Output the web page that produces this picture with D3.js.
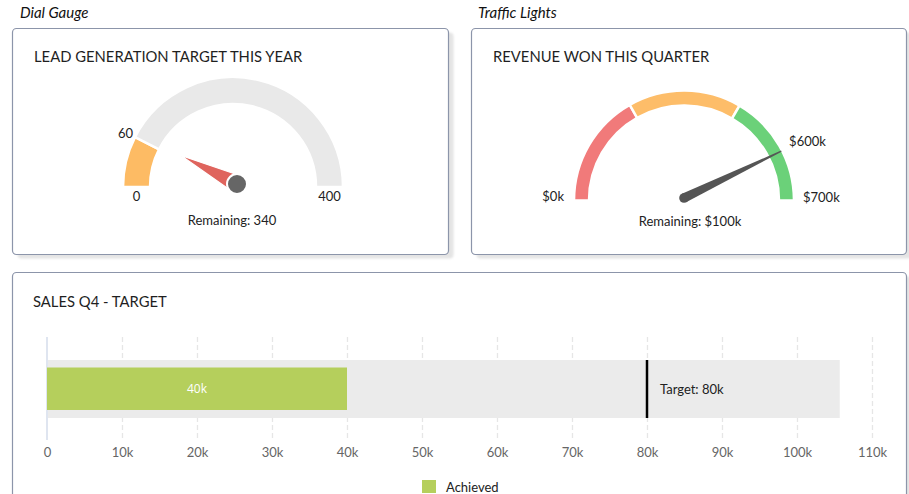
<!DOCTYPE html>
<html>
<head>
<meta charset="utf-8">
<script src="https://cdn.jsdelivr.net/npm/d3@7"></script>
<style>
  html, body { margin: 0; padding: 0; background: #ffffff; overflow: hidden; }
  svg { display: block; font-family: Lato, "Open Sans", sans-serif; }
</style>
</head>
<body>
<svg id="chart" width="909" height="494"></svg>
<script>
// ---------- DATA ----------
// Dial gauge (lead generation)
const leadMax = 400;
const leadValue = 60;
const leadBandStops = [0, 60, 400];
const leadBandColors = ["#fdbb64", "#e9e9e9"];
const leadLabels = ["0", "60", "400"];
const leadRemaining = "Remaining: 340";

// Traffic lights (revenue, in $k)
const revMax = 700;
const revValue = 600;
const revBandStops = [0, 235, 468, 700];
const revBandColors = ["#f17a7a", "#fdbd69", "#6bd179"];
const revLabels = ["$0k", "$600k", "$700k"];
const revRemaining = "Remaining: $100k";

// Bullet chart (sales Q4)
const salesTicks = [0, 10000, 20000, 30000, 40000, 50000, 60000, 70000, 80000, 90000, 100000, 110000];
const salesAchieved = 40000;
const salesTarget = 80000;
const salesBandMax = 105700;
const salesSeries = ["Achieved"];

// ---------- DRAW ----------
const svg = d3.select("#chart");
const defs = svg.append("defs");
const blur = defs.append("filter").attr("id", "sh").attr("x", "-5%").attr("y", "-5%").attr("width", "115%").attr("height", "115%");
blur.append("feGaussianBlur").attr("stdDeviation", 1.2);

function panel(x, y, w, h) {
  svg.append("rect").attr("x", x + 5).attr("y", y + 4).attr("width", w).attr("height", h)
    .attr("rx", 4).attr("fill", "#e4e4e4").attr("filter", "url(#sh)");
  svg.append("rect").attr("x", x).attr("y", y).attr("width", w).attr("height", h)
    .attr("rx", 4).attr("fill", "#ffffff").attr("stroke", "#8c95aa").attr("stroke-width", 1.2);
}

// section headings
svg.append("text").attr("x", 20).attr("y", 18).text("Dial Gauge")
  .attr("font-style", "italic").attr("font-size", 15).attr("fill", "#111");
svg.append("text").attr("x", 478).attr("y", 18).text("Traffic Lights")
  .attr("font-style", "italic").attr("font-size", 15).attr("fill", "#111");

panel(12.5, 28.5, 436, 226);
panel(471.5, 28.5, 435, 226);
panel(12.5, 272.5, 894, 240);

function title(x, y, t) {
  svg.append("text").attr("x", x).attr("y", y).text(t)
    .attr("font-size", 14.8).attr("fill", "#1f1f1f");
}
title(34, 62, "LEAD GENERATION TARGET THIS YEAR");
title(493, 62, "REVENUE WON THIS QUARTER");
title(33, 307, "SALES Q4 - TARGET");

// ---------- Gauge 1 ----------
{
  const cx = 233, cy = 187, rOut = 110, rIn = 83;
  const a = d3.scaleLinear().domain([0, leadMax]).range([-Math.PI / 2, Math.PI / 2]);
  const g = svg.append("g").attr("transform", `translate(${cx},${cy})`);
  const arc = d3.arc().innerRadius(rIn).outerRadius(rOut);
  const bands = leadBandColors.map((c, i) => ({ from: leadBandStops[i], to: leadBandStops[i + 1], color: c }));
  g.selectAll("path.band").data(bands).join("path").attr("class", "band")
    .attr("d", d => arc({ startAngle: a(d.from), endAngle: a(d.to) }))
    .attr("fill", d => d.color).attr("stroke", "#fff").attr("stroke-width", 2.5);

  const font = 13;
  g.append("text").attr("x", -(rIn + rOut) / 2).attr("y", 14).attr("text-anchor", "middle")
    .attr("font-size", font).attr("fill", "#222").text(leadLabels[0]);
  g.append("text").attr("x", (rIn + rOut) / 2).attr("y", 14).attr("text-anchor", "middle")
    .attr("font-size", font).attr("fill", "#222").text(leadLabels[2]);
  const va = a(leadValue);
  g.append("text").attr("x", Math.sin(va) * rOut - 2).attr("y", -Math.cos(va) * rOut + 1)
    .attr("text-anchor", "end").attr("font-size", font).attr("fill", "#222").text(leadLabels[1]);

  // needle
  const px = 4, py = -3, len = 63, hw = 9;
  const dx = Math.sin(va), dy = -Math.cos(va);
  const pts = [[px + dx * len, py + dy * len], [px - dy * hw, py + dx * hw], [px + dy * hw, py - dx * hw]];
  g.append("path").attr("d", d3.line()(pts) + "Z").attr("fill", "#df645d").attr("stroke", "#fff").attr("stroke-width", 1.2);
  g.append("circle").attr("cx", px).attr("cy", py).attr("r", 10).attr("fill", "#666").attr("stroke", "#fff").attr("stroke-width", 2);

  g.append("text").attr("x", -1).attr("y", 38).attr("text-anchor", "middle")
    .attr("font-size", font).attr("fill", "#222").text(leadRemaining);
}

// ---------- Gauge 2 ----------
{
  const cx = 684, cy = 200.5, rOut = 110, rIn = 95;
  const a = d3.scaleLinear().domain([0, revMax]).range([-Math.PI / 2, Math.PI / 2]);
  const g = svg.append("g").attr("transform", `translate(${cx},${cy})`);
  const arc = d3.arc().innerRadius(rIn).outerRadius(rOut);
  const bands = revBandColors.map((c, i) => ({ from: revBandStops[i], to: revBandStops[i + 1], color: c }));
  g.selectAll("path.band").data(bands).join("path").attr("class", "band")
    .attr("d", d => arc({ startAngle: a(d.from), endAngle: a(d.to) }))
    .attr("fill", d => d.color).attr("stroke", "#fff").attr("stroke-width", 2.5);

  const font = 13;
  g.append("text").attr("x", -rOut - 10).attr("y", 0).attr("text-anchor", "end")
    .attr("font-size", font).attr("fill", "#222").text(revLabels[0]);
  g.append("text").attr("x", rOut + 9).attr("y", 1).attr("text-anchor", "start")
    .attr("font-size", font).attr("fill", "#222").text(revLabels[2]);
  const va = a(revValue);
  g.append("text").attr("x", Math.sin(va) * rOut + 6).attr("y", -Math.cos(va) * rOut - 7)
    .attr("text-anchor", "start").attr("font-size", font).attr("fill", "#222").text(revLabels[1]);

  // tapered needle with round base
  const len = 108, hw = 4.8, tw = 0.6, bx = 0, by = -2.5;
  const dx = Math.sin(va), dy = -Math.cos(va);
  const nx = -dy, ny = dx;
  const pts = [[bx + nx * hw, by + ny * hw], [bx + dx * len + nx * tw, by + dy * len + ny * tw],
               [bx + dx * len - nx * tw, by + dy * len - ny * tw], [bx - nx * hw, by - ny * hw]];
  g.append("path").attr("d", d3.line()(pts) + "Z").attr("fill", "#555");
  g.append("circle").attr("cx", bx).attr("cy", by).attr("r", hw).attr("fill", "#555");

  g.append("text").attr("x", 6).attr("y", 25).attr("text-anchor", "middle")
    .attr("font-size", font).attr("fill", "#222").text(revRemaining);
}

// ---------- Bullet chart ----------
{
  const x = d3.scaleLinear().domain([0, 110000]).range([47, 872]);
  const yTop = 337, yBot = 440, bandTop = 360, bandBot = 418, barTop = 367.5, barBot = 410;
  const g = svg.append("g");

  g.selectAll("line.grid").data(salesTicks.filter(d => d > 0)).join("line").attr("class", "grid")
    .attr("x1", d => Math.round(x(d)) + 0.5).attr("x2", d => Math.round(x(d)) + 0.5)
    .attr("y1", yTop).attr("y2", yBot)
    .attr("stroke", "#e6e6e6").attr("stroke-width", 1.3).attr("stroke-dasharray", "5,3");

  g.append("rect").attr("x", x(0)).attr("y", bandTop).attr("width", x(salesBandMax) - x(0))
    .attr("height", bandBot - bandTop).attr("fill", "#ebebeb");

  g.append("line").attr("x1", x(0)).attr("x2", x(0)).attr("y1", yTop).attr("y2", yBot)
    .attr("stroke", "#dfe5f0").attr("stroke-width", 2);

  g.append("rect").attr("x", x(0)).attr("y", barTop).attr("width", x(salesAchieved) - x(0))
    .attr("height", barBot - barTop).attr("fill", "#b5cf5c");
  g.append("text").attr("x", (x(0) + x(salesAchieved)) / 2).attr("y", (barTop + barBot) / 2 + 4)
    .attr("text-anchor", "middle").attr("font-size", 12).attr("font-weight", 500)
    .attr("font-family", "'Open Sans', sans-serif").attr("fill", "#ffffff").text(salesAchieved / 1000 + "k");

  g.append("line").attr("x1", x(salesTarget)).attr("x2", x(salesTarget)).attr("y1", bandTop).attr("y2", bandBot)
    .attr("stroke", "#000").attr("stroke-width", 2.5);
  g.append("text").attr("x", x(salesTarget) + 13).attr("y", (bandTop + bandBot) / 2 + 4.5)
    .attr("font-size", 13).attr("fill", "#222").text("Target: " + salesTarget / 1000 + "k");

  const axis = d3.axisBottom(x).tickValues(salesTicks).tickSize(0).tickPadding(0)
    .tickFormat(d => d === 0 ? "0" : d / 1000 + "k");
  const ax = svg.append("g").attr("transform", "translate(0,448)").call(axis);
  ax.select(".domain").remove();
  ax.selectAll("text").attr("font-size", 13).attr("fill", "#666").attr("font-family", "Lato, sans-serif")
    .attr("dy", "0.71em");

  const lg = svg.append("g").attr("transform", "translate(422,480)");
  lg.selectAll("rect").data(salesSeries).join("rect").attr("x", 0).attr("y", 0)
    .attr("width", 14).attr("height", 13).attr("fill", "#b5cf5c");
  lg.selectAll("text").data(salesSeries).join("text").attr("x", 24).attr("y", 11.5)
    .attr("font-size", 13).attr("fill", "#222").text(d => d);
}
</script>
</body>
</html>
